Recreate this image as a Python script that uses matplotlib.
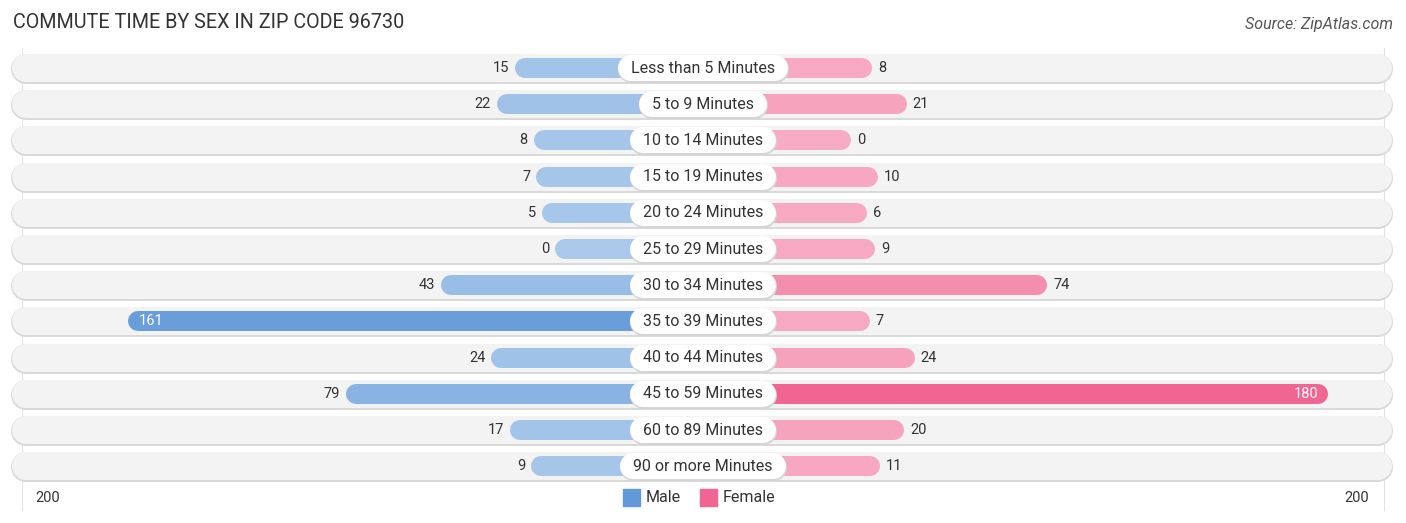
import numpy as np
import matplotlib
matplotlib.use("Agg")
import matplotlib.pyplot as plt
from matplotlib.colors import to_rgb

plt.rcParams['font.family'] = ['Roboto', 'DejaVu Sans']

categories = ["Less than 5 Minutes", "5 to 9 Minutes", "10 to 14 Minutes",
              "15 to 19 Minutes", "20 to 24 Minutes", "25 to 29 Minutes",
              "30 to 34 Minutes", "35 to 39 Minutes", "40 to 44 Minutes",
              "45 to 59 Minutes", "60 to 89 Minutes", "90 or more Minutes"]
male = [15, 22, 8, 7, 5, 0, 43, 161, 24, 79, 17, 9]
female = [8, 21, 0, 10, 6, 9, 74, 7, 24, 180, 20, 11]
axis_max = 200

W, H, DPI = 1406, 523, 100
fig = plt.figure(figsize=(W / DPI, H / DPI), dpi=DPI)
ax = fig.add_axes([0, 0, 1, 1])

k = 2.65          # px per unit
cx = 703          # center px
row0 = 68         # first row center px
dy = 36.2         # px per row
off = 148 / k     # half label gap in units

ax.set_xlim(-cx / k, (W - cx) / k)
ax.set_ylim((H - row0) / dy, -row0 / dy)
ax.axis('off')

def px2pt(p):
    return p * 72 / DPI

def mix(c1, c2, t):
    a, b = np.array(to_rgb(c1)), np.array(to_rgb(c2))
    return tuple(a + (b - a) * t)

vmax = max(max(male), max(female))
renderer = fig.canvas.get_renderer()

# grid lines at +/-200
for s in (-1, 1):
    ax.plot([s * (off + axis_max + 1)] * 2, [-0.55, 12.2], color='#e2e2e2', lw=0.8, zorder=0)

for i, cat in enumerate(categories):
    # row background
    r_pad = 14 / k
    x0, x1 = (12 - cx) / k + r_pad, (1392 - cx) / k - r_pad
    ax.plot([x0, x1], [i + 0.03, i + 0.03], color='#d9d9d9', lw=px2pt(30),
            solid_capstyle='round', zorder=1)
    ax.plot([x0, x1], [i, i], color='#f3f3f3', lw=px2pt(28),
            solid_capstyle='round', zorder=2)

    cap = 10 / k
    m, f = male[i], female[i]
    mc = mix('#a9c8ea', '#6199d9', m / vmax)
    fc = mix('#f7abc4', '#f06592', f / vmax)
    ax.plot([-(off + m) + cap, -cap], [i, i], color=mc, lw=px2pt(20),
            solid_capstyle='round', zorder=3)
    ax.plot([cap, off + f - cap], [i, i], color=fc, lw=px2pt(20),
            solid_capstyle='round', zorder=3)

    # category label in a white pill
    t = ax.text(0, i, cat, ha='center', va='center', fontsize=11.5, color='#333333', zorder=6)
    tw = t.get_window_extent(renderer).width / k
    ax.plot([-tw / 2, tw / 2], [i + 0.03, i + 0.03], color='#d5d5d5', lw=px2pt(27),
            solid_capstyle='round', zorder=4)
    ax.plot([-tw / 2, tw / 2], [i, i], color='white', lw=px2pt(26),
            solid_capstyle='round', zorder=5)

    # value labels
    if m > 140:
        ax.text(-(off + m) + 10 / k, i, str(m), ha='left', va='center', fontsize=10.5,
                color='white', zorder=6)
    else:
        ax.text(-(off + m) - 6 / k, i, str(m), ha='right', va='center', fontsize=10.5,
                color='#333333', zorder=6)
    if f > 140:
        ax.text(off + f - 10 / k, i, str(f), ha='right', va='center', fontsize=10.5,
                color='white', zorder=6)
    else:
        ax.text(off + f + 6 / k, i, str(f), ha='left', va='center', fontsize=10.5,
                color='#333333', zorder=6)

# title and source
fig.text(13 / W, 1 - 22 / H, "COMMUTE TIME BY SEX IN ZIP CODE 96730", ha='left', va='center',
         fontsize=14.2, color='#333333')
fig.text(1393 / W, 1 - 24 / H, "Source: ZipAtlas.com", ha='right', va='center',
         fontsize=11.5, color='#555555', style='italic')

# axis end labels
fig.text(48 / W, 1 - 498 / H, str(axis_max), ha='center', va='center', fontsize=10.5, color='#333333')
fig.text(1357 / W, 1 - 498 / H, str(axis_max), ha='center', va='center', fontsize=10.5, color='#333333')

# legend
for lx, lab, col in ((632, "Male", '#6199d9'), (709, "Female", '#f06592')):
    fig.patches.append(plt.Rectangle(((lx - 9) / W, 1 - 506 / H), 17 / W, 17 / H,
                                     transform=fig.transFigure, color=col, figure=fig))
    fig.text((lx + 14) / W, 1 - 498 / H, lab, ha='left', va='center', fontsize=11.5, color='#333333')

fig.savefig("out.png", dpi=DPI)
